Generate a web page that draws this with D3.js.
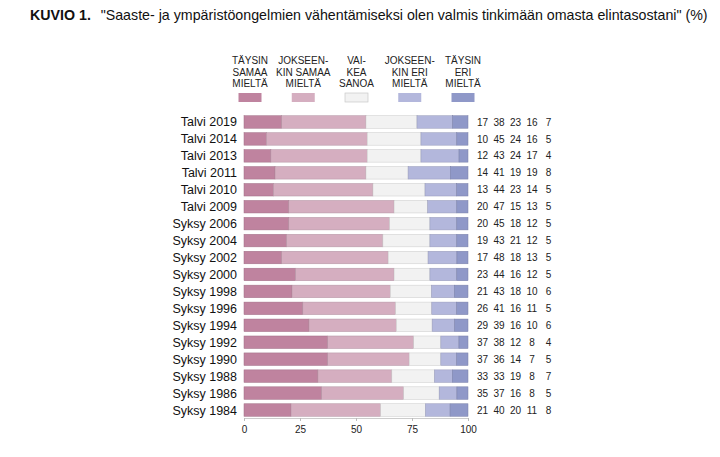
<!DOCTYPE html>
<html>
<head>
<script src="https://d3js.org/d3.v7.min.js"></script>
<style>
    body { margin: 0; background: #fff; }
    svg { font-family: "Liberation Sans", Arial, sans-serif; }
    .axis path { stroke: #ccc; }
    .axis line { stroke: #bbb; }
    .axis text { font-size: 10px; fill: #222; font-family: "Liberation Sans", Arial, sans-serif; }
</style>
</head>
<body>
<svg width="720" height="457"></svg>
<script>
var categories = ["Talvi 2019", "Talvi 2014", "Talvi 2013", "Talvi 2011", "Talvi 2010", "Talvi 2009",
    "Syksy 2006", "Syksy 2004", "Syksy 2002", "Syksy 2000", "Syksy 1998", "Syksy 1996",
    "Syksy 1994", "Syksy 1992", "Syksy 1990", "Syksy 1988", "Syksy 1986", "Syksy 1984"];

var taysinSamaa   = [17, 10, 12, 14, 13, 20, 20, 19, 17, 23, 21, 26, 29, 37, 37, 33, 35, 21];
var jokseenSamaa  = [38, 45, 43, 41, 44, 47, 45, 43, 48, 44, 43, 41, 39, 38, 36, 33, 37, 40];
var vaikeaSanoa   = [23, 24, 24, 19, 23, 15, 18, 21, 18, 16, 18, 16, 16, 12, 14, 19, 16, 20];
var jokseenEri    = [16, 16, 17, 19, 14, 13, 12, 12, 13, 12, 10, 11, 10,  8,  7,  8,  8, 11];
var taysinEri     = [ 7,  5,  4,  8,  5,  5,  5,  5,  5,  5,  6,  5,  6,  4,  5,  7,  5,  8];

var seriesNames = ["TÄYSIN\nSAMAA\nMIELTÄ", "JOKSEEN-\nKIN SAMAA\nMIELTÄ", "VAI-\nKEA\nSANOA",
    "JOKSEEN-\nKIN ERI\nMIELTÄ", "TÄYSIN\nERI\nMIELTÄ"];
var colors = ["#bf839f", "#d5aec0", "#f2f2f2", "#b3b7dc", "#8f98c8"];
var xTicks = [0, 25, 50, 75, 100];

var seriesValues = [taysinSamaa, jokseenSamaa, vaikeaSanoa, jokseenEri, taysinEri];

// rows for the stack, each row scaled to 100 %
var rows = categories.map(function (c, i) {
    var row = {cat: c};
    var total = d3.sum(seriesValues, function (s) { return s[i]; });
    seriesValues.forEach(function (s, k) { row["s" + k] = s[i] * 100 / total; });
    return row;
});
var keys = seriesValues.map(function (s, k) { return "s" + k; });
var stacked = d3.stack().keys(keys)(rows);

var svg = d3.select("svg");

var x = d3.scaleLinear().domain([0, 100]).range([244, 468]);
var y = d3.scaleBand().domain(categories).range([113.5, 418.5]).paddingInner(0.26).paddingOuter(0.13);

// title: narrow look made by squeezing Liberation Sans horizontally
var title = svg.append("text")
    .style("font-size", "14.5px")
    .attr("fill", "#111");
title.append("tspan").style("font-weight", "bold").text("KUVIO 1.");
title.append("tspan").attr("dx", 10)
    .text("\"Saaste- ja ympäristöongelmien vähentämiseksi olen valmis tinkimään omasta elintasostani\" (%)");
var tw = title.node().getComputedTextLength();
title.attr("transform", "translate(30,20) scale(" + (668 / tw) + ",1)");

// legend
var legendX = d3.scalePoint().domain(d3.range(5)).range([250, 463]);
var legend = svg.selectAll(".legend").data(seriesNames).enter().append("g")
    .attr("class", "legend")
    .attr("transform", function (d, i) { return "translate(" + legendX(i) + ",0)"; });
legend.each(function (d) {
    var g = d3.select(this);
    d.split("\n").forEach(function (line, j) {
        g.append("text").attr("y", 64 + j * 11.5)
            .attr("text-anchor", "middle")
            .style("font-size", "10px").attr("fill", "#222")
            .text(line);
    });
});
legend.append("rect")
    .attr("x", -11.5).attr("y", 93).attr("width", 23).attr("height", 9)
    .attr("fill", function (d, i) { return colors[i]; })
    .attr("stroke", function (d, i) { return i === 2 ? "#c8c8c8" : "none"; })
    .attr("stroke-width", 0.7);

// bars
svg.selectAll(".series").data(stacked).enter().append("g")
    .attr("class", "series")
    .attr("fill", function (d, i) { return colors[i]; })
    .attr("stroke", function (d, i) { return d3.color(colors[i]).darker(0.5); })
    .attr("stroke-width", 0.5)
    .selectAll("rect").data(function (d) { return d; }).enter().append("rect")
    .attr("x", function (d) { return x(d[0]); })
    .attr("y", function (d) { return y(d.data.cat); })
    .attr("width", function (d) { return x(d[1]) - x(d[0]); })
    .attr("height", y.bandwidth());

// category labels
svg.selectAll(".cat").data(categories).enter().append("text")
    .attr("class", "cat")
    .attr("x", 237)
    .attr("y", function (d) { return y(d) + y.bandwidth() / 2; })
    .attr("dy", "0.36em")
    .attr("text-anchor", "end")
    .style("font-size", "12.5px").attr("fill", "#111")
    .text(function (d) { return d; });

// value columns
var numX = d3.scalePoint().domain(d3.range(5)).range([482.5, 548.5]);
seriesValues.forEach(function (vals, k) {
    svg.selectAll(".num" + k).data(vals).enter().append("text")
        .attr("x", numX(k))
        .attr("y", function (d, i) { return y(categories[i]) + y.bandwidth() / 2; })
        .attr("dy", "0.36em")
        .attr("text-anchor", "middle")
        .style("font-size", "10px").attr("fill", "#222")
        .text(function (d) { return d; });
});

// x axis
svg.append("g")
    .attr("class", "axis")
    .attr("transform", "translate(0,418)")
    .call(d3.axisBottom(x).tickValues(xTicks).tickSize(3).tickSizeOuter(0).tickPadding(5));
</script>
</body>
</html>
